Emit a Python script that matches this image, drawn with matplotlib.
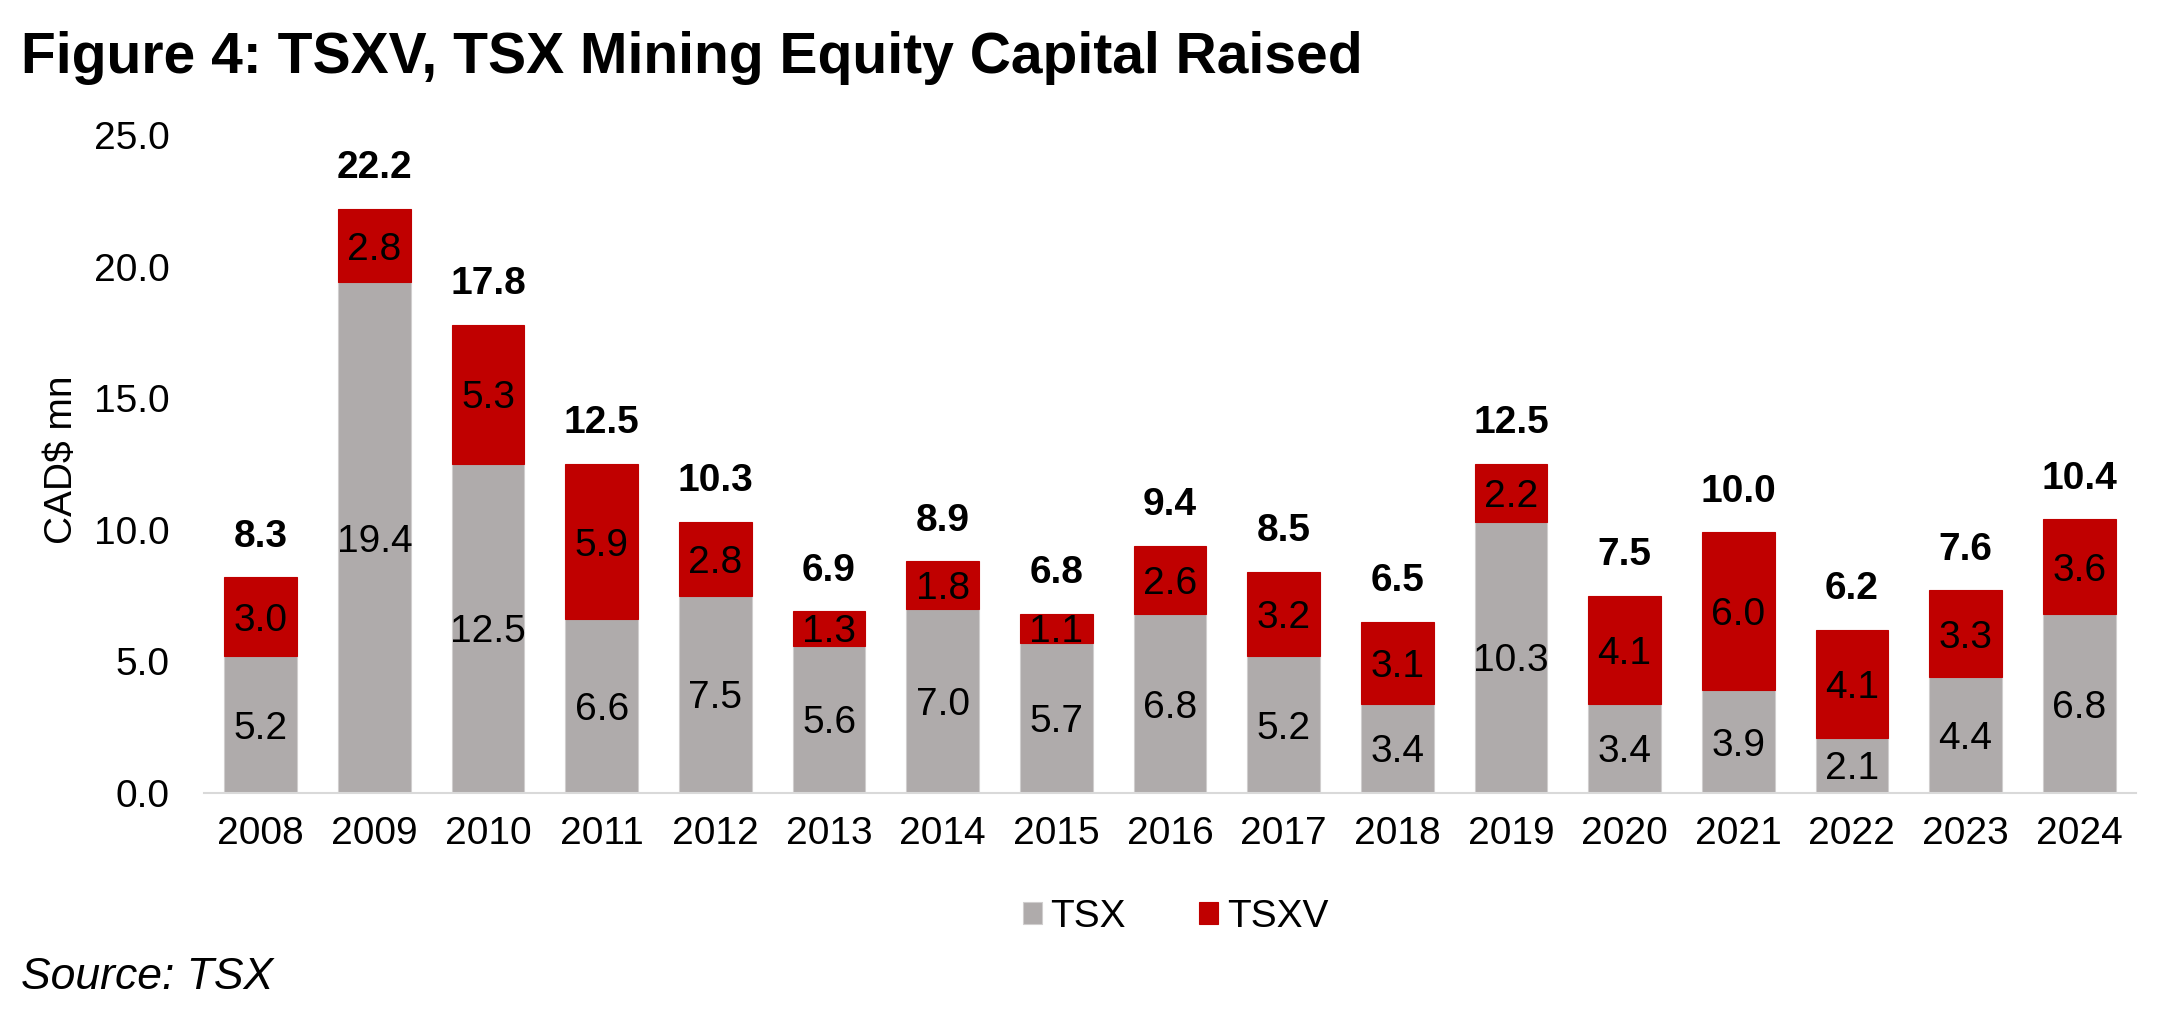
import matplotlib
matplotlib.use("Agg")
import matplotlib.pyplot as plt
import numpy as np

years = ["2008", "2009", "2010", "2011", "2012", "2013", "2014", "2015", "2016",
         "2017", "2018", "2019", "2020", "2021", "2022", "2023", "2024"]
tsx = [5.2, 19.4, 12.5, 6.6, 7.5, 5.6, 7.0, 5.7, 6.8, 5.2, 3.4, 10.3, 3.4, 3.9, 2.1, 4.4, 6.8]
tsxv = [3.0, 2.8, 5.3, 5.9, 2.8, 1.3, 1.8, 1.1, 2.6, 3.2, 3.1, 2.2, 4.1, 6.0, 4.1, 3.3, 3.6]
totals = [8.3, 22.2, 17.8, 12.5, 10.3, 6.9, 8.9, 6.8, 9.4, 8.5, 6.5, 12.5, 7.5, 10.0, 6.2, 7.6, 10.4]
yticks = [0, 5, 10, 15, 20, 25]

GREY = "#AFABAB"
RED = "#C00000"
FS = 28

plt.rcParams['font.family'] = ['Liberation Sans', 'DejaVu Sans']

W, H = 2168, 1018
fig = plt.figure(figsize=(W / 100, H / 100), dpi=100)
ax = fig.add_axes([204 / W, 1 - 793 / H, (2136 - 204) / W, (793 - 135) / H])

x = np.arange(len(years))
bw = 0.64
ax.bar(x, tsx, width=bw, color=GREY, edgecolor="#D0CECE", linewidth=0.8, label="TSX", zorder=2)
ax.bar(x, tsxv, width=bw, bottom=tsx, color=RED, edgecolor=RED, linewidth=0.8, label="TSXV", zorder=2)

for i in range(len(years)):
    ax.text(x[i], tsx[i] / 2, f"{tsx[i]:.1f}", ha="center", va="center_baseline",
            fontsize=FS, color="black", zorder=3)
    ax.text(x[i], tsx[i] + tsxv[i] / 2, f"{tsxv[i]:.1f}", ha="center", va="center_baseline",
            fontsize=FS, color="black", zorder=3)
    ax.annotate(f"{totals[i]:.1f}", xy=(x[i], tsx[i] + tsxv[i]), xytext=(0, 22),
                textcoords="offset points", ha="center", va="baseline",
                fontsize=FS, fontweight="bold", color="black")

ax.set_xlim(-0.5, len(years) - 0.5)
ax.set_ylim(0, 25)
ax.set_xticks(x)
ax.set_xticklabels(years)
ax.set_yticks(yticks)
ax.set_yticklabels([f"{v:.1f}" for v in yticks])
ax.tick_params(axis="both", length=0, labelsize=FS, colors="black")
ax.tick_params(axis="x", pad=16.5)
ax.tick_params(axis="y", pad=25)

for s in ["top", "right", "left"]:
    ax.spines[s].set_visible(False)
ax.spines["bottom"].set_color("#D9D9D9")
ax.spines["bottom"].set_linewidth(1.5)
ax.spines["bottom"].set_zorder(4)

fig.text(62 / W, 1 - 460 / H, "CAD$ mn", rotation=90, ha="center", va="center", fontsize=FS)

leg = fig.legend(loc="center", bbox_to_anchor=(1175.5 / W, 1 - 917 / H), ncol=2, frameon=False,
                 fontsize=FS, handlelength=0.49, handleheight=0.49, handletextpad=0.23,
                 columnspacing=1.88)

fig.text(21 / W, 1 - 73 / H, "Figure 4: TSXV, TSX Mining Equity Capital Raised",
         ha="left", va="baseline", fontsize=41, fontweight="bold")
fig.text(21 / W, 1 - 989 / H, "Source: TSX", ha="left", va="baseline", fontsize=32,
         fontstyle="italic")

fig.savefig("out.png", dpi=100)
